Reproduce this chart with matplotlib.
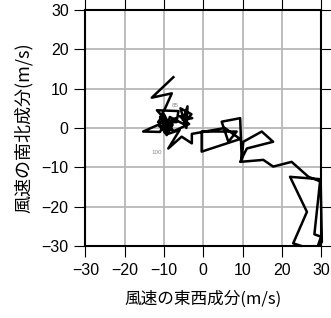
import numpy as np
import matplotlib
matplotlib.use("Agg")
import matplotlib.pyplot as plt

plt.rcParams['font.family'] = ['Liberation Sans', 'Noto Sans CJK JP', 'DejaVu Sans']

# hodograph of wind (u: east-west, v: north-south)
u = [24.8, 22.9, 26.4, 22.1, 29.8, 28.3, 30.0, 29.2, 30.2, 29.9,
     26.8, 22.5, 17.8, 15.3, 9.4, 11.1, 17.8, 14.9, 10.2, 9.8,
     9.4, 4.7, 6.4, 8.5, -0.4, -0.4, 9.4, 5.5, -2.9, -2.9,
     -5.5, -8.9, -6.0, -9.0, -11.5, -15.3, -11.0, -9.5, -11.8, -6.3,
     -6.8, -11.5, -10.0, -8.0, -10.5, -7.0, -9.8, -8.5, -5.0, -3.0,
     -5.8, -4.3, -4.0, -5.2, -2.8, -6.0, -3.6, -7.5, -11.0, -9.0,
     -10.5, -8.2, -11.2, -9.3, -7.8, -10.8, -9.7, -8.0, -13.1, -7.6]
v = [-29.9, -29.3, -21.3, -12.4, -13.0, -27.0, -27.6, -29.9, -29.0, -13.6,
     -12.4, -8.6, -9.8, -8.1, -8.6, -5.2, -3.5, -0.9, -3.5, -8.1,
     2.5, 1.6, -3.5, -0.9, -0.9, -6.0, -2.8, 0.0, -1.5, -3.9,
     -2.2, -5.2, -0.5, -1.5, 0.8, -0.9, -1.0, 2.0, 4.5, 4.3,
     1.5, 1.5, 3.5, -0.5, 0.5, 2.5, -1.2, 2.8, 1.0, 3.5,
     5.0, 0.0, 5.5, 2.0, 2.5, 3.0, 1.0, -0.8, 2.8, 0.5,
     -0.5, 1.8, 1.2, -1.8, 0.8, 3.0, 5.0, 8.8, 7.7, 12.9]

marks = ["85", "100"]
mark_u = [-7.2, -11.9]
mark_v = [5.8, -6.3]

ticks = [-30, -20, -10, 0, 10, 20, 30]

fig = plt.figure(figsize=(3.31, 3.18), dpi=100)
ax = fig.add_axes([0.258, 0.226, 0.712, 0.743])

ax.grid(True, color='#b8b8b8', lw=1.3)
ax.set_axisbelow(True)
ax.plot(u, v, color='black', lw=1.8, clip_on=False, zorder=3)
for t, x, y in zip(marks, mark_u, mark_v):
    ax.text(x, y, t, fontsize=4.5, color='#888888', ha='center', va='center')

ax.set_xlim(-30, 30)
ax.set_ylim(-30, 30)
ax.set_xticks(ticks)
ax.set_yticks(ticks)
ax.set_xticklabels([str(t).replace('-', '\u2212') for t in ticks])
ax.set_yticklabels([str(t).replace('-', '\u2212') for t in ticks])
ax.tick_params(direction='out', length=8, width=0.8, labelsize=11.5,
               top=True, right=True, pad=4)
for s in ax.spines.values():
    s.set_linewidth(1.5)

cjk = ['Noto Sans CJK JP', 'DejaVu Sans']
ax.set_xlabel('風速の東西成分(m/s)', fontsize=12, family=cjk, labelpad=9)
ax.set_ylabel('風速の南北成分(m/s)', fontsize=13, family=cjk, labelpad=6)

fig.savefig('out.png', dpi=100)
